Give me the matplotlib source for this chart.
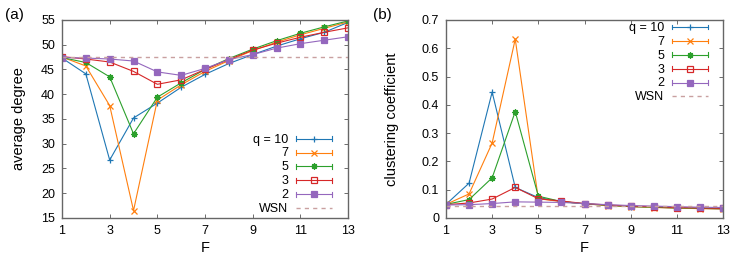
import matplotlib
matplotlib.use("Agg")
import matplotlib.pyplot as plt
from matplotlib.lines import Line2D
from matplotlib.legend_handler import HandlerLine2D

plt.rcParams['font.family'] = ['Liberation Sans', 'DejaVu Sans']
plt.rcParams['font.size'] = 8

F = list(range(1, 14))
q_labels = ["q = 10", "7", "5", "3", "2"]

# average degree
deg_q10 = [47.3, 44.1, 26.7, 35.2, 38.2, 41.4, 44.0, 46.2, 48.0, 49.7, 51.2, 52.5, 54.5]
deg_q7 = [47.5, 45.7, 37.7, 16.5, 38.8, 41.9, 44.6, 46.8, 48.8, 50.5, 52.0, 53.3, 54.6]
deg_q5 = [47.4, 46.4, 43.5, 32.0, 39.4, 42.3, 45.0, 47.2, 49.1, 50.8, 52.3, 53.6, 54.8]
deg_q3 = [47.6, 47.1, 46.5, 44.6, 42.0, 42.9, 45.0, 47.0, 48.9, 50.3, 51.5, 52.5, 53.4]
deg_q2 = [47.4, 47.3, 47.1, 46.7, 44.5, 43.8, 45.2, 47.0, 48.0, 49.3, 50.2, 50.9, 51.6]
deg_wsn = 47.5

# clustering coefficient
cc_q10 = [0.048, 0.123, 0.445, 0.108, 0.072, 0.058, 0.050, 0.045, 0.040, 0.038, 0.035, 0.034, 0.032]
cc_q7 = [0.048, 0.085, 0.265, 0.632, 0.068, 0.058, 0.050, 0.044, 0.040, 0.037, 0.035, 0.033, 0.032]
cc_q5 = [0.048, 0.065, 0.142, 0.376, 0.077, 0.058, 0.050, 0.045, 0.041, 0.038, 0.036, 0.034, 0.033]
cc_q3 = [0.047, 0.053, 0.067, 0.108, 0.068, 0.060, 0.051, 0.046, 0.042, 0.040, 0.037, 0.035, 0.034]
cc_q2 = [0.046, 0.047, 0.051, 0.057, 0.056, 0.055, 0.051, 0.047, 0.044, 0.042, 0.040, 0.038, 0.037]
cc_wsn = 0.044

colors = ["#1f77b4", "#ff7f0e", "#2ca02c", "#d62728", "#9467bd"]
wsn_color = "#c9a0a0"
markers = ["+", "x", (8, 2, 0), "s", "s"]
fills = ["full", "full", "full", "none", "full"]


class HandlerCapped(HandlerLine2D):
    # gnuplot-like legend sample: line with end caps
    def create_artists(self, legend, orig_handle, xdescent, ydescent,
                       width, height, fontsize, trans):
        artists = super().create_artists(legend, orig_handle, xdescent, ydescent,
                                         width, height, fontsize, trans)
        if orig_handle.get_marker() not in (None, "None", "", " "):
            y = height / 2 - ydescent
            h = height * 0.3
            for x in (-xdescent, -xdescent + width):
                cap = Line2D([x, x], [y - h, y + h], color=orig_handle.get_color(),
                             lw=orig_handle.get_linewidth(), transform=trans)
                artists.append(cap)
        return artists


def draw_panel(ax, series, wsn, ylim, yticks, ylabel, label_x, legend_loc, legend_anchor):
    handles = []
    for vals, lab, c, m, fs in zip(series, q_labels, colors, markers, fills):
        ln, = ax.plot(F, vals, color=c, lw=0.8, marker=m, ms=4.5, mew=0.9,
                      fillstyle=fs, label=lab)
        handles.append(ln)
    wl = ax.axhline(wsn, color=wsn_color, lw=1.0, ls=(0, (3, 3)), label="WSN")
    handles.append(wl)

    ax.set_xlim(1, 13)
    ax.set_ylim(*ylim)
    ax.set_xticks([1, 3, 5, 7, 9, 11, 13])
    ax.set_yticks(yticks)
    ax.set_xlabel("F", labelpad=3, fontsize=10.5)
    ax.set_ylabel(ylabel, fontsize=10.5)
    ax.yaxis.set_label_coords(label_x, 0.5)
    ax.tick_params(direction="in", top=True, right=True, length=3, width=0.6,
                   color="#555555", labelsize=9, pad=5)
    for s in ax.spines.values():
        s.set_color("#666666")
        s.set_linewidth(1.0)

    # legend laid out at a small size; visible labels are redrawn below
    leg = ax.legend(handles=handles, loc=legend_loc, bbox_to_anchor=legend_anchor,
                    frameon=False, markerfirst=False, handlelength=3.25,
                    handletextpad=0.7, labelspacing=0.35, fontsize=8,
                    borderaxespad=0, borderpad=0,
                    handler_map={Line2D: HandlerCapped()})
    return leg


fig = plt.figure(figsize=(7.47, 2.62), dpi=100)
ax1 = fig.add_axes([0.083, 0.168, 0.383, 0.756])
ax2 = fig.add_axes([0.597, 0.168, 0.371, 0.756])

leg1 = draw_panel(ax1, [deg_q10, deg_q7, deg_q5, deg_q3, deg_q2], deg_wsn,
                  (15, 55), range(15, 56, 5), "average degree", -0.126,
                  "lower right", (0.944, 0.02))
leg2 = draw_panel(ax2, [cc_q10, cc_q7, cc_q5, cc_q3, cc_q2], cc_wsn,
                  (0, 0.7), [0, 0.1, 0.2, 0.3, 0.4, 0.5, 0.6, 0.7],
                  "clustering coefficient", -0.17, "upper right", (0.946, 0.985))
ax2.set_yticklabels(["0", "0.1", "0.2", "0.3", "0.4", "0.5", "0.6", "0.7"])

fig.text(0.007, 0.943, "(a)", fontsize=11, va="center")
fig.text(0.499, 0.943, "(b)", fontsize=11, va="center")

# right-align legend labels like gnuplot: replace texts with right-aligned ones
fig.canvas.draw()
renderer = fig.canvas.get_renderer()
inv = fig.transFigure.inverted()
for leg in (leg1, leg2):
    texts = leg.get_texts()
    boxes = [t.get_window_extent(renderer) for t in texts]
    right = max(b.x1 for b in boxes)
    for t, b in zip(texts, boxes):
        x, y = inv.transform((right, (b.y0 + b.y1) / 2))
        fig.text(x, y, t.get_text(), ha="right", va="center", fontsize=9)
        t.set_visible(False)

fig.savefig("out.png", dpi=100)
